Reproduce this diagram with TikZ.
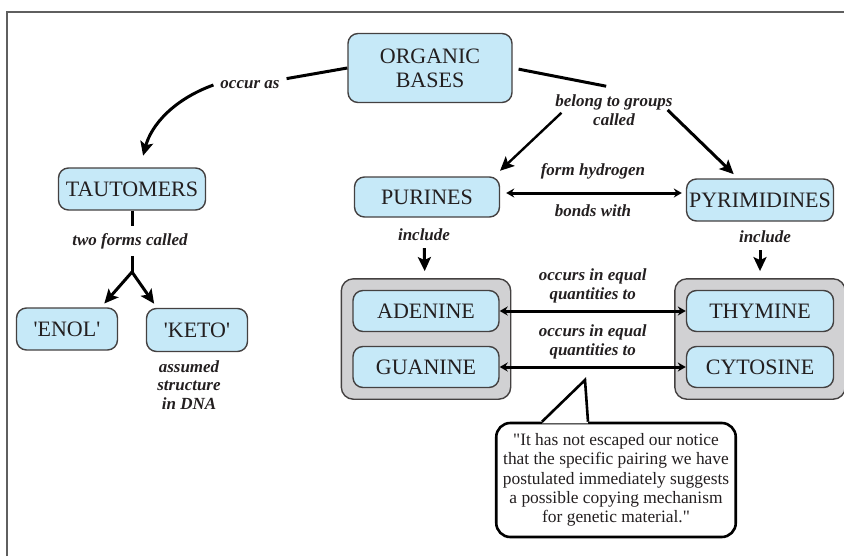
\documentclass[tikz,border=0pt]{standalone}
\usepackage{fontspec}
\setmainfont{Liberation Serif}
\usepackage{xcolor}
\usetikzlibrary{arrows.meta, positioning, fit, backgrounds, calc}
\definecolor{boxblue}{HTML}{C6E9F8}
\definecolor{boxgray}{HTML}{D1D1D3}
\definecolor{inkblack}{HTML}{231F20}
\definecolor{framegray}{HTML}{5F5F5F}

\begin{document}
\begin{tikzpicture}[
  x=0.5pt, y=-0.5pt,
  box/.style={rectangle, draw=inkblack!85, line width=0.7pt, fill=boxblue, rounded corners=5pt, align=center, text=inkblack, font=\fontsize{11}{12}\selectfont, inner sep=1pt},
  group/.style={rectangle, draw=inkblack!85, line width=0.7pt, fill=boxgray, rounded corners=6pt, inner sep=5.5pt},
  lbl/.style={align=center, text=inkblack, font=\fontsize{8.5}{9.2}\selectfont\bfseries\itshape},
  line/.style={line width=1.5pt, draw=black},
  arrow/.style={line, -{Stealth[length=7pt, width=6.5pt, inset=1.5pt]}},
  darrow/.style={line, {Stealth[length=4pt, width=4.5pt]}-{Stealth[length=4pt, width=4.5pt]}},
  quote/.style={rectangle, draw=black, line width=1.3pt, fill=white, rounded corners=7pt, align=center, text=inkblack, font=\fontsize{8.7}{9.6}\selectfont, minimum width=119pt, minimum height=57pt}
]
  \useasboundingbox (0,0) rectangle (844,556);
  \draw[framegray, line width=1pt] (7,556) -- (7,12) -- (844,12);

  \node[box, minimum width=82pt, minimum height=34.5pt] (organic) at (430,68) {ORGANIC\\BASES};
  \node[box, minimum width=73.5pt, minimum height=21pt] (taut) at (132,189) {TAUTOMERS};
  \node[box, minimum width=50.5pt, minimum height=21pt] (enol) at (67,329) {\textquotesingle ENOL\textquotesingle};
  \node[box, minimum width=50.5pt, minimum height=21.5pt] (keto) at (197,330) {\textquotesingle KETO\textquotesingle};
  \node[box, minimum width=72.5pt, minimum height=20pt] (purines) at (427,197) {PURINES};
  \node[box, minimum width=73.5pt, minimum height=21pt] (pyr) at (760,200) {PYRIMIDINES};
  \node[box, minimum width=73pt, minimum height=20.5pt] (adenine) at (426,311) {ADENINE};
  \node[box, minimum width=73pt, minimum height=20.5pt] (guanine) at (426,367) {GUANINE};
  \node[box, minimum width=73.5pt, minimum height=20.5pt] (thymine) at (760,311) {THYMINE};
  \node[box, minimum width=73.5pt, minimum height=20.5pt] (cytosine) at (760,367) {CYTOSINE};
  \begin{scope}[on background layer]
    \node[group, fit=(adenine)(guanine)] (purgrp) {};
    \node[group, fit=(thymine)(cytosine)] (pyrgrp) {};
  \end{scope}

  \node[lbl] (occuras) at (250,85) {occur as};
  \node[lbl] (belong) at (614,110) {belong to groups\\called};
  \node[lbl] (twoforms) at (130,241) {two forms called};
  \node[lbl] (assumed) at (189,385) {assumed\\structure\\in DNA};
  \node[lbl] (incpur) at (424,235) {include};
  \node[lbl] (incpyr) at (765,237) {include};
  \coordinate (fork) at (132,272);

  \draw[line] (organic.west) -- (occuras);
  \draw[arrow, shorten >=6pt] (occuras.west) to[out=200, in=75] ([xshift=4pt]taut.north);
  \draw[line] (taut.south) -- (taut.south |- twoforms.north);
  \draw[line] (twoforms.south -| fork) -- (fork);
  \draw[arrow, shorten >=2.5pt] (fork) -- ([xshift=17pt]enol.north);
  \draw[arrow, shorten >=2.5pt] (fork) -- ([xshift=-20pt]keto.north);

  \draw[line, shorten <=3pt, shorten >=4pt] (organic.east) -- (belong.north);
  \draw[arrow, line width=1.2pt, shorten <=2pt, shorten >=4pt] ([xshift=8pt]belong.west) -- ([xshift=-3pt]purines.north east);
  \draw[arrow, shorten >=3pt] ([xshift=-6pt]belong.east) -- ([xshift=-11pt]pyr.north);
  \draw[darrow, shorten <=3pt, shorten >=2pt] ([yshift=2pt]purines.east) -- ([yshift=3.5pt]pyr.west)
    node[lbl, midway, above=3pt] (formhyd) {form hydrogen}
    node[lbl, midway, below=2pt] (bonds) {bonds with};

  \draw[arrow, shorten >=3.5pt] (incpur) -- (purgrp);
  \draw[arrow, shorten >=3.5pt] (incpyr.south -| pyrgrp.north) -- (pyrgrp);

  \draw[darrow] (adenine) -- (thymine)
    node[lbl, midway, above=0pt] (occurs1) {occurs in equal\\quantities to};
  \draw[darrow] (guanine) -- (cytosine)
    node[lbl, midway, above=0pt] (occurs2) {occurs in equal\\quantities to};

  \node[quote] (quote) at (616,480) {\textquotedbl It has not escaped our notice\\that the specific pairing we have\\postulated immediately suggests\\a possible copying mechanism\\for genetic material.\textquotedbl};
  \coordinate (tip) at (585,380);
  \fill[white] ([xshift=-37pt, yshift=-0.8pt]quote.north) -- (tip) -- ([xshift=-14pt, yshift=-0.8pt]quote.north) -- cycle;
  \draw[line width=1.3pt] ([xshift=-37pt]quote.north) -- (tip) -- ([xshift=-14pt]quote.north);
\end{tikzpicture}
\end{document}
